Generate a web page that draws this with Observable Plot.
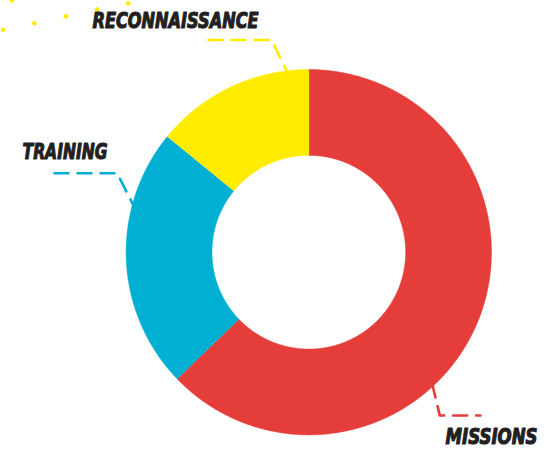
<!DOCTYPE html>
<html>
<head>
<meta charset="utf-8">
<script src="https://cdn.jsdelivr.net/npm/d3@7"></script>
<script src="https://cdn.jsdelivr.net/npm/@observablehq/plot@0.6"></script>
<style>
  html, body { margin: 0; padding: 0; background: #fff; }
  #chart svg { display: block; }
</style>
</head>
<body>
<div id="chart"></div>
<script>
// ---- data ----
const categories = ["MISSIONS", "TRAINING", "RECONNAISSANCE"];
const shares = [62.8, 23.1, 14.1];
const colors = ["#e43d3a", "#00afd1", "#ffec00"];

// leader lines (donut-centred units, outer radius = 1)
const leaderLines = [
  { label: "RECONNAISSANCE", pts: [[-0.549, 1.1615], [-0.204, 1.1615], [-0.122, 0.9945]] },
  { label: "TRAINING", pts: [[-1.392, 0.4324], [-1.0487, 0.4324], [-0.9595, 0.2556]] },
  { label: "MISSIONS", pts: [[0.6754, -0.7203], [0.717, -0.8938], [0.9398, -0.8938]] }
];
// label anchors (left edge, cap top) and target widths
const labelPos = [
  { label: "RECONNAISSANCE", x: -1.1838, y: 1.3104, w: 166 },
  { label: "TRAINING", x: -1.5670, y: 0.5940, w: 85 },
  { label: "MISSIONS", x: 0.7482, y: -0.9650, w: 92 }
];
// decorative confetti dots
const sparkles = [[-1.6727, 1.2173], [-1.5014, 1.2534], [-1.33, 1.2917], [-1.1582, 1.3284], [-0.9885, 1.3629], [-1.6234, 1.3777]];

// ---- geometry ----
const W = 555, H = 452;
const innerR = 0.53;
const pie = d3.pie().sort(null).value(d => d.value)(categories.map((c, i) => ({ label: c, value: shares[i] })));
const arcPts = [];
for (const s of pie) {
  const n = Math.max(8, Math.ceil((s.endAngle - s.startAngle) / 0.005));
  for (let k = 0; k <= n; k++) {
    const a = s.startAngle + (s.endAngle - s.startAngle) * k / n;
    arcPts.push({ label: s.data.label, x: Math.sin(a), y: Math.cos(a) });
  }
  for (let k = n; k >= 0; k--) {
    const a = s.startAngle + (s.endAngle - s.startAngle) * k / n;
    arcPts.push({ label: s.data.label, x: innerR * Math.sin(a), y: innerR * Math.cos(a) });
  }
}
const leaderPts = leaderLines.flatMap(l => l.pts.map(([x, y]) => ({ label: l.label, x, y })));

const chart = Plot.plot({
  width: W,
  height: H,
  margin: 0,
  x: { domain: [-1.6875, 1.3503], axis: null },
  y: { domain: [-1.0963, 1.3777], axis: null },
  color: { domain: categories, range: colors },
  marks: [
    Plot.line(arcPts, { x: "x", y: "y", z: "label", fill: "label", stroke: "label", strokeWidth: 0.5 }),
    Plot.line(leaderPts, { x: "x", y: "y", z: "label", stroke: "label", strokeWidth: 2.6, strokeDasharray: "14 9" }),
    Plot.dot(sparkles, { x: d => d[0], y: d => d[1], r: 2.3, fill: "#ffec00", stroke: "none" }),
    Plot.text(labelPos, {
      x: "x", y: "y", text: "label", textAnchor: "start", lineAnchor: "top",
      fill: "#231f20", stroke: "#231f20", strokeWidth: 1.1,
      fontSize: 22, fontWeight: "bold", fontStyle: "italic",
      fontFamily: "'Liberation Sans Narrow', 'DejaVu Sans Condensed', 'DejaVu Sans', sans-serif"
    })
  ]
});
document.getElementById("chart").appendChild(chart);
// fit label widths
const texts = chart.querySelectorAll("text");
texts.forEach(t => {
  const p = labelPos.find(l => l.label === t.textContent);
  if (p) { t.setAttribute("textLength", p.w); t.setAttribute("lengthAdjust", "spacingAndGlyphs"); }
});
</script>
</body>
</html>
